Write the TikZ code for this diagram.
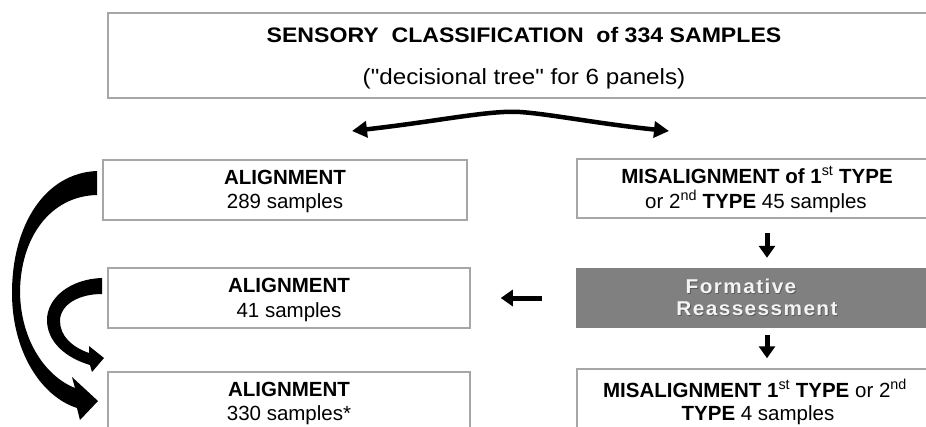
\documentclass[tikz,border=0pt]{standalone}
\usepackage{fontspec}
\setmainfont{Liberation Sans}
\newfontfamily\titlefont{Liberation Sans}[FakeStretch=1.1]
\newfontfamily\reasfont{Liberation Sans}[LetterSpace=7,FakeStretch=1.04]
\usetikzlibrary{arrows.meta}
\definecolor{edgegray}{HTML}{A6A6A6}
\definecolor{fillgray}{HTML}{808080}
\definecolor{reastext}{HTML}{F4F4F4}

\begin{document}
\begin{tikzpicture}[x=1pt,y=-1pt,
  panel/.style={draw=edgegray, line width=1.5pt, fill=white, inner sep=0pt},
  darkpanel/.style={fill=fillgray, inner sep=0pt},
  txt/.style={anchor=base, inner sep=0pt, font=\fontsize{20.5}{24}\selectfont},
  titletxt/.style={anchor=base, inner sep=0pt, font=\titlefont\fontsize{21}{24}\selectfont},
  reastxt/.style={anchor=base, inner sep=0pt, text=reastext, font=\reasfont\bfseries\fontsize{20}{24}\selectfont},
  reasshadow/.style={reastxt, text=black!65},
  thickarrow/.style={line width=5pt, -{Triangle[length=12pt,width=16pt]}},
]
\useasboundingbox (0,0) rectangle (926,426);
\fill[white] (0,0) rectangle (926,426);
\clip (0,0) rectangle (926,426);

% title box
\node[panel, minimum width=832pt, minimum height=85pt] (top) at (524,55.5) {};
\node[titletxt] (topA) at (524,42) {\bfseries SENSORY\ \ CLASSIFICATION\ \ of 334 SAMPLES};
\node[titletxt, font=\titlefont\fontsize{22}{24}\selectfont] (topB) at (524,84) {("decisional tree" for 6 panels)};

% left column
\node[panel, minimum width=364pt, minimum height=60pt] (a1) at (285,190) {};
\node[txt] (a1A) at (285,184) {\bfseries ALIGNMENT};
\node[txt] (a1B) at (285,208) {289 samples};

\node[panel, minimum width=362pt, minimum height=60pt] (a2) at (289,298) {};
\node[txt] (a2A) at (289,292) {\bfseries ALIGNMENT};
\node[txt] (a2B) at (289,317) {41 samples};

\node[panel, minimum width=362pt, minimum height=60pt] (a3) at (289,402) {};
\node[txt] (a3A) at (289,396) {\bfseries ALIGNMENT};
\node[txt] (a3B) at (289,420.5) {330 samples*};

% right column
\node[panel, minimum width=363pt, minimum height=59pt] (m1) at (758.5,188.5) {};
\node[txt] (m1A) at (757,183) {\bfseries MISALIGNMENT of 1\textsuperscript{\mdseries st} TYPE};
\node[txt] (m1B) at (756,208) {or 2\textsuperscript{nd} \textbf{TYPE} 45 samples};

\node[darkpanel, minimum width=364pt, minimum height=60pt] (reas) at (758,298) {};
\node[reasshadow] (reasAs) at (741.8,294.2) {Formative};
\node[reasshadow] (reasBs) at (757.8,316.2) {Reassessment};
\node[reastxt] (reasA) at (741,293) {Formative};
\node[reastxt] (reasB) at (757,315) {Reassessment};

\node[panel, minimum width=363pt, minimum height=60pt] (m2) at (758.5,399) {};
\node[txt] (m2A) at (755,397) {\bfseries MISALIGNMENT 1\textsuperscript{\mdseries st} TYPE \mdseries or 2\textsuperscript{nd}};
\node[txt] (m2B) at (758,420) {\textbf{TYPE} 4 samples};

% split arrow under the title
\coordinate (splitL) at (352,131);
\coordinate (splitP) at (520,112);
\coordinate (splitR) at (669,131);
\draw[line width=4.5pt, {Triangle[length=15pt,width=16pt]}-{Triangle[length=15pt,width=16pt]}]
  (splitL) .. controls (440,121) and (490,110) .. (splitP)
  .. controls (550,114) and (600,124) .. (splitR);

% straight arrows
\coordinate (colx) at (767,0);
\draw[thickarrow, shorten <=14pt, shorten >=10pt] (m1.south -| colx) -- (reas.north -| colx);
\draw[thickarrow, shorten <=7pt, shorten >=10pt] (reas.south -| colx) -- (m2.north -| colx);
\draw[thickarrow, shorten <=34pt, shorten >=30pt] (reas.west) -- (a2.east);

% curved arrows on the left
\fill (97,171) .. controls (45,173) and (12,225) .. (12,293)
  .. controls (12,350) and (40,396) .. (77,408) -- (80,420) -- (98,401) -- (72,377) -- (75,388)
  .. controls (45,376) and (21,340) .. (20,293)
  .. controls (20,238) and (50,196) .. (97,195) -- cycle;
\fill (102,278) .. controls (70,279) and (47,298) .. (47,320)
  .. controls (47,342) and (66,358) .. (90,365) -- (92,372) -- (104,358) -- (89,346) -- (89,353)
  .. controls (72,347) and (60,336) .. (60,321)
  .. controls (60,305) and (78,294) .. (102,294) -- cycle;
\end{tikzpicture}
\end{document}
